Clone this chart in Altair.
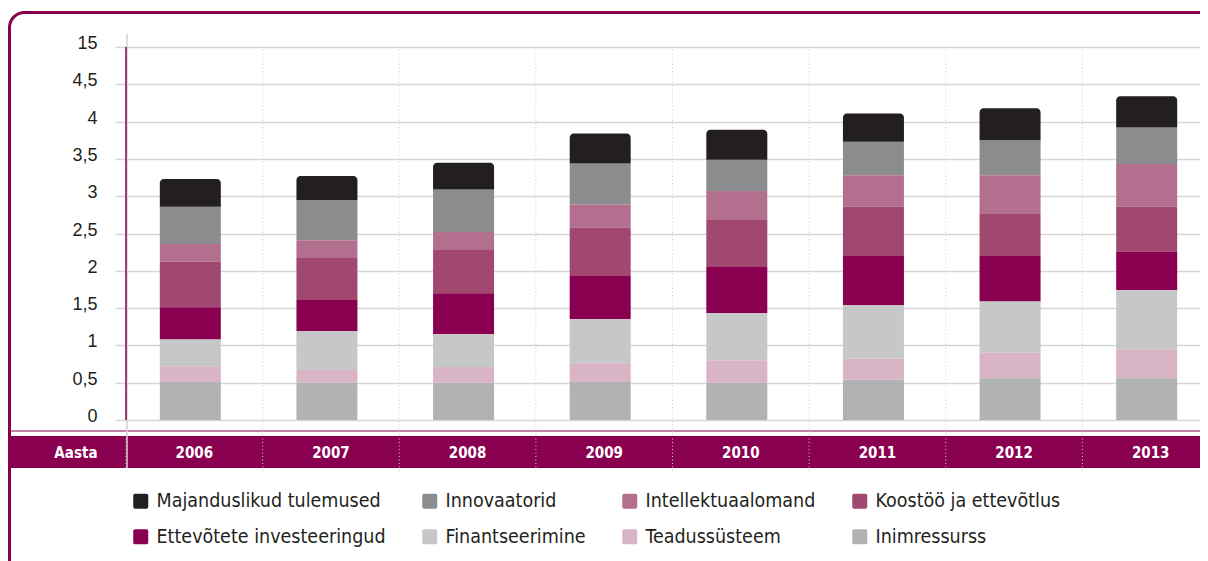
import altair as alt
import pandas as pd

years = ["2006", "2007", "2008", "2009", "2010", "2011", "2012", "2013"]
series = [
    "Majanduslikud tulemused",
    "Innovaatorid",
    "Intellektuaalomand",
    "Koostöö ja ettevõtlus",
    "Ettevõtete investeeringud",
    "Finantseerimine",
    "Teadussüsteem",
    "Inimressurss",
]
colors = ["#231f20", "#8b8c8e", "#b36f8e", "#a04870", "#8a0050", "#c6c7c9", "#d8b4c4", "#b1b2b4"]

majanduslikud = [0.37, 0.32, 0.36, 0.40, 0.40, 0.38, 0.43, 0.42]
innovaatorid = [0.50, 0.54, 0.57, 0.55, 0.42, 0.45, 0.47, 0.49]
intellekt = [0.24, 0.23, 0.24, 0.31, 0.38, 0.42, 0.51, 0.57]
koostoo = [0.61, 0.57, 0.58, 0.65, 0.64, 0.66, 0.57, 0.60]
ettevotete = [0.43, 0.42, 0.55, 0.58, 0.62, 0.66, 0.61, 0.52]
finants = [0.36, 0.52, 0.44, 0.59, 0.63, 0.72, 0.69, 0.79]
teadus = [0.21, 0.17, 0.21, 0.25, 0.30, 0.28, 0.34, 0.39]
inim = [0.51, 0.50, 0.50, 0.51, 0.50, 0.54, 0.56, 0.56]

y_ticks = [0, 0.5, 1, 1.5, 2, 2.5, 3, 3.5, 4, 4.5, 5]

all_vals = [majanduslikud, innovaatorid, intellekt, koostoo, ettevotete, finants, teadus, inim]
rows = []
for i, (name, vals) in enumerate(zip(series, all_vals)):
    for y, v in zip(years, vals):
        rows.append({"year": y, "series": name, "value": v, "ord": 7 - i})
df = pd.DataFrame(rows)
years_df = pd.DataFrame({"year": years})

NARROW = "Liberation Sans, sans-serif"
COND = "DejaVu Sans Condensed, sans-serif"
PURPLE = "#8a0050"

x_axis = alt.Axis(
    title="Aasta", titleX=-29, titleY=32, titleAlign="right", titleBaseline="middle",
    titleAngle=0, titleColor="white", titleFont=COND, titleFontSize=15, titleFontWeight="bold",
    labelColor="white", labelFont=COND, labelFontSize=15, labelFontWeight="bold",
    labelAngle=0, labelBaseline="middle", labelPadding=32, domain=False, ticks=False,
    tickSize=0, grid=False, zindex=1,
)
x_scale = alt.Scale(domain=years, range=[0, 1093], paddingInner=0, paddingOuter=0)
y_scale = alt.Scale(domain=[0, 5], nice=False)
y_axis = alt.Axis(
    title=None, values=y_ticks,
    labelExpr="datum.value == 5 ? '15' : replace(format(datum.value, '~g'), '.', ',')",
    labelFont=NARROW, labelFontSize=18, labelColor="#231f20", labelBaseline="alphabetic",
    labelOffset=1.5, labelPadding=18, tickSize=11, tickColor="#d6d6d6", tickWidth=1.5,
    gridColor="#d6d6d6", gridWidth=1.5, domain=False,
)

color = alt.Color(
    "series:N",
    scale=alt.Scale(domain=series, range=colors),
    legend=alt.Legend(
        title=None, orient="none", legendX=5, legendY=444, columns=4, direction="horizontal",
        columnPadding=34, rowPadding=15, labelLimit=0,
        symbolType="M -0.75 -1 L 0.75 -1 Q 1 -1 1 -0.75 L 1 0.75 Q 1 1 0.75 1 L -0.75 1 Q -1 1 -1 0.75 L -1 -0.75 Q -1 -1 -0.75 -1 Z",
        symbolSize=225, symbolStrokeWidth=0, symbolOpacity=1, labelFont=COND, labelFontSize=19.5,
        labelColor="#231f20", labelOffset=6, padding=0, gridAlign="each",
    ),
)

one = alt.Data(values=[{}])

band = alt.Chart(one).mark_rect(color=PURPLE).encode(
    x=alt.value(-117), x2=alt.value(1150), y=alt.value(389), y2=alt.value(421)
)
thin_line = alt.Chart(one).mark_rule(color=PURPLE, strokeWidth=1.2).encode(
    x=alt.value(-117), x2=alt.value(1150), y=alt.value(384)
)
gray_vline = alt.Chart(one).mark_rule(color="#d3d3d3", strokeWidth=1.5).encode(
    x=alt.value(1), y=alt.value(-13), y2=alt.value(421)
)
dotted = alt.Chart(years_df).mark_rule(color="#cfcfcf", strokeWidth=1, strokeDash=[1, 2.5]).encode(
    x=alt.X("year:N", bandPosition=0, scale=x_scale, axis=x_axis, sort=years),
    y=alt.value(3), y2=alt.value(426),
)

base = alt.Chart(df).transform_stack(
    stack="value", groupby=["year"], as_=["v0", "v1"],
    sort=[alt.SortField("ord", order="ascending")],
)
enc = dict(
    x=alt.X("year:N", scale=x_scale, axis=x_axis, sort=years),
    y=alt.Y("v1:Q", scale=y_scale, axis=y_axis),
    y2="v0:Q",
    color=color,
)
bars_rest = base.transform_filter("datum.ord < 7").mark_bar(size=61, xOffset=-4, opacity=1).encode(**enc)
bars_top = base.transform_filter("datum.ord == 7").mark_bar(
    size=61, xOffset=-4, opacity=1, cornerRadiusTopLeft=4, cornerRadiusTopRight=4
).encode(**enc)

y_line = alt.Chart(one).mark_rule(color=PURPLE, strokeWidth=1.5).encode(
    x=alt.value(0), y=alt.value(0), y2=alt.value(373)
)
frame = alt.Chart(one).mark_rect(
    fillOpacity=0, stroke=PURPLE, strokeWidth=3, cornerRadius=15
).encode(x=alt.value(-116.5), x2=alt.value(2000), y=alt.value(-34.5), y2=alt.value(700))

chart = alt.layer(
    band, thin_line, gray_vline, dotted, bars_rest, bars_top, y_line, frame
).properties(
    width=1074, height=373,
    autosize=alt.AutoSizeParams(type="none"),
    padding={"left": 118, "top": 39, "right": 0, "bottom": 141},
).configure_view(stroke=None).configure(background="white")

chart.save("out.html", embed_options={"renderer": "svg", "actions": False})
